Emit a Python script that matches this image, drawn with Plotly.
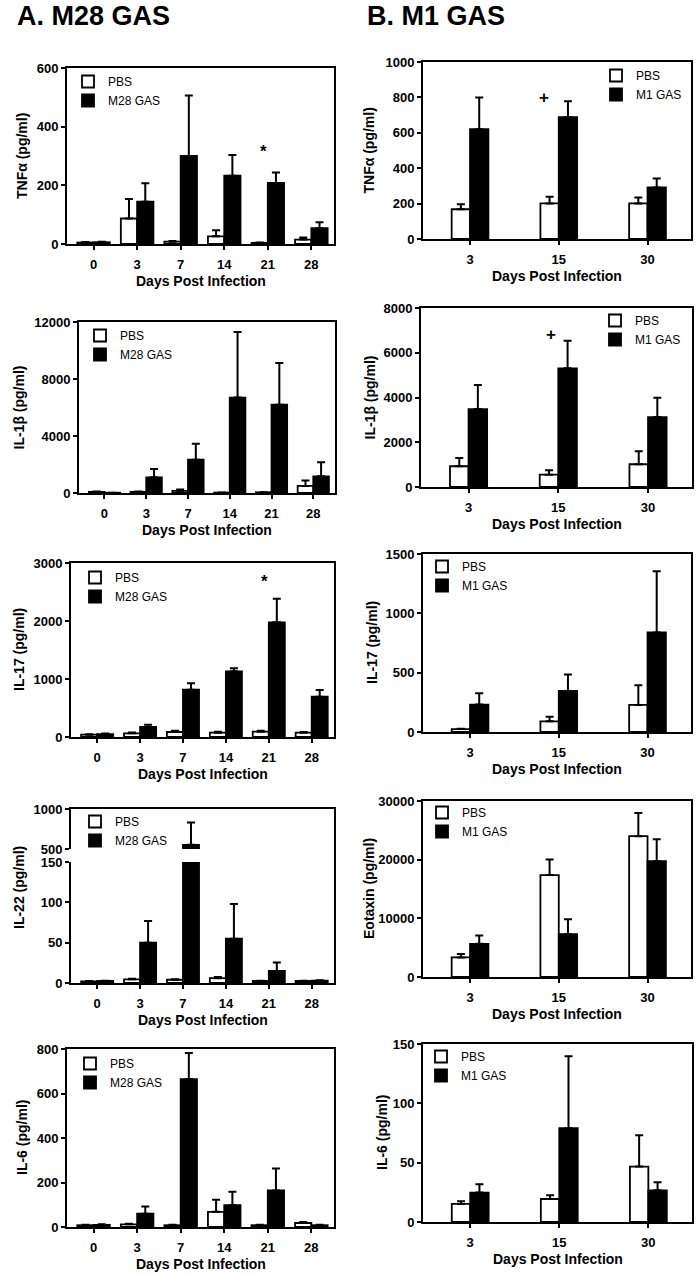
import plotly.graph_objects as go

W, H = 697, 1276
FONT = "Liberation Sans, Arial, Helvetica, sans-serif"

# ---------------- data ----------------
days_A = ["0", "3", "7", "14", "21", "28"]
days_B = ["3", "15", "30"]

tnf_A_pbs = [5, 87, 8, 26, 4, 15]
tnf_A_pbs_err = [2, 66, 2, 21, 1, 7]
tnf_A_gas = [6, 144, 300, 233, 208, 54]
tnf_A_gas_err = [2, 63, 206, 70, 36, 20]

il1b_A_pbs = [80, 80, 150, 30, 50, 500]
il1b_A_pbs_err = [20, 30, 90, 10, 10, 380]
il1b_A_gas = [20, 1100, 2340, 6700, 6200, 1170]
il1b_A_gas_err = [5, 580, 1120, 4590, 2920, 980]

il17_A_pbs = [40, 63, 86, 75, 92, 75]
il17_A_pbs_err = [8, 15, 20, 15, 17, 12]
il17_A_gas = [50, 172, 816, 1132, 1977, 695]
il17_A_gas_err = [10, 40, 110, 52, 408, 115]

il22_A_pbs = [2, 4.5, 4, 6, 2.5, 2.5]
il22_A_pbs_err = [0.5, 0.8, 0.8, 1.3, 0.3, 0.3]
il22_A_gas = [2.5, 50, 552, 55, 15, 3]
il22_A_gas_err = [0.3, 27, 279, 43, 10.5, 0.5]

il6_A_pbs = [8, 12, 8, 68, 8, 18]
il6_A_pbs_err = [2, 3, 2, 55, 2, 5]
il6_A_gas = [10, 60, 665, 98, 164, 8]
il6_A_gas_err = [2, 32, 117, 60, 99, 2]

tnf_B_pbs = [168, 201, 201]
tnf_B_pbs_err = [28, 38, 34]
tnf_B_gas = [620, 688, 291]
tnf_B_gas_err = [179, 90, 51]

il1b_B_pbs = [927, 553, 1016]
il1b_B_pbs_err = [373, 194, 584]
il1b_B_gas = [3483, 5306, 3124]
il1b_B_gas_err = [1077, 1226, 867]

il17_B_pbs = [25, 90, 228]
il17_B_pbs_err = [3, 39, 166]
il17_B_gas = [231, 346, 839]
il17_B_gas_err = [95, 138, 515]

eot_B_pbs = [3340, 17376, 24000]
eot_B_pbs_err = [565, 2658, 3960]
eot_B_gas = [5660, 7300, 19750]
eot_B_gas_err = [1415, 2550, 3740]

il6_B_pbs = [15.2, 19.4, 46.7]
il6_B_pbs_err = [2.2, 3.1, 26.5]
il6_B_gas = [24.8, 79, 26.7]
il6_B_gas_err = [7, 60.6, 6.8]

# significance marks: (panel, category, y value, symbol)
sig_marks = [(1, "21", 324, "*"), (2, "15", 816, "+"), (4, "15", 6930, "+"), (5, "21", 2741, "*")]


def xd(px):
    return px / W


def yd(py):
    return 1 - py / H


A_RANGE = [-0.61, 5.52]
B_RANGE = [-0.53, 2.49]
A_W = 0.374
B_W = 0.207

panels = [
    dict(i=1, cats=days_A, d=(tnf_A_pbs, tnf_A_pbs_err, tnf_A_gas, tnf_A_gas_err), gas="M28 GAS",
         box=(67, 68, 334, 244), yr=[0, 600], dt=200, yt="TNFα (pg/ml)", ytx=22, leg=(68, 67)),
    dict(i=2, cats=days_B, d=(tnf_B_pbs, tnf_B_pbs_err, tnf_B_gas, tnf_B_gas_err), gas="M1 GAS",
         box=(423, 62, 691, 239), yr=[0, 1000], dt=200, yt="TNFα (pg/ml)", ytx=368, leg=(596, 61)),
    dict(i=3, cats=days_A, d=(il1b_A_pbs, il1b_A_pbs_err, il1b_A_gas, il1b_A_gas_err), gas="M28 GAS",
         box=(79, 322, 335, 493), yr=[0, 12000], dt=4000, yt="IL-1β (pg/ml)", ytx=18, leg=(80, 321)),
    dict(i=4, cats=days_B, d=(il1b_B_pbs, il1b_B_pbs_err, il1b_B_gas, il1b_B_gas_err), gas="M1 GAS",
         box=(421, 308, 692, 487), yr=[0, 8000], dt=2000, yt="IL-1β (pg/ml)", ytx=370, leg=(595, 306)),
    dict(i=5, cats=days_A, d=(il17_A_pbs, il17_A_pbs_err, il17_A_gas, il17_A_gas_err), gas="M28 GAS",
         box=(71, 563, 334, 737), yr=[0, 3000], dt=1000, yt="IL-17 (pg/ml)", ytx=19, leg=(75, 563)),
    dict(i=6, cats=days_B, d=(il17_B_pbs, il17_B_pbs_err, il17_B_gas, il17_B_gas_err), gas="M1 GAS",
         box=(423, 554, 691, 732), yr=[0, 1500], dt=500, yt="IL-17 (pg/ml)", ytx=372, leg=(422, 552)),
    dict(i=7, cats=days_A, d=(il22_A_pbs, il22_A_pbs_err, il22_A_gas, il22_A_gas_err), gas="M28 GAS",
         box=(71, 862, 334, 983), yr=[0, 150], dt=50, yt="IL-22 (pg/ml)", ytx=19, leg=(75, 807),
         yt_y=888),
    dict(i=8, cats=days_B, d=(eot_B_pbs, eot_B_pbs_err, eot_B_gas, eot_B_gas_err), gas="M1 GAS",
         box=(423, 801, 691, 977), yr=[0, 30000], dt=10000, yt="Eotaxin (pg/ml)", ytx=369, leg=(422, 798)),
    dict(i=9, cats=days_A, d=(il6_A_pbs, il6_A_pbs_err, il6_A_gas, il6_A_gas_err), gas="M28 GAS",
         box=(67, 1049, 334, 1227), yr=[0, 800], dt=200, yt="IL-6 (pg/ml)", ytx=22, leg=(70, 1049)),
    dict(i=10, cats=days_B, d=(il6_B_pbs, il6_B_pbs_err, il6_B_gas, il6_B_gas_err), gas="M1 GAS",
         box=(423, 1044, 692, 1222), yr=[0, 150], dt=50, yt="IL-6 (pg/ml)", ytx=382, leg=(421, 1042)),
]

tickfont = dict(family=FONT, size=13, color="black", weight="bold")
titlefont = dict(family=FONT, size=14, color="black", weight="bold")


def sfx(i):
    return "" if i == 1 else str(i)


def axis_base():
    return dict(showline=True, linecolor="black", linewidth=2, mirror=True, ticks="outside",
                ticklen=4, tickwidth=2, tickcolor="black", showgrid=False, zeroline=False,
                tickfont=tickfont, fixedrange=True, tickformat="d", automargin=False)


def bar_traces(cats, vals, errs, name, xa, ya, legend, color, w, offset, showlegend=True):
    n = len(cats)
    return go.Bar(
        x=cats, y=vals, name=name, xaxis=xa, yaxis=ya, legend=legend,
        width=[w] * n, offset=[offset] * n, showlegend=showlegend,
        marker=dict(color=color, line=dict(color="black", width=1.8)),
        error_y=dict(type="data", symmetric=False, array=errs, arrayminus=[0] * n,
                     color="black", thickness=2, width=4),
        hoverinfo="skip",
    )


fig = go.Figure()
layout = dict(width=W, height=H, autosize=False, margin=dict(l=0, r=0, t=0, b=0, pad=0),
              paper_bgcolor="white", plot_bgcolor="white", barmode="overlay", showlegend=True,
              font=dict(family=FONT, color="black"))
annotations = []
shapes = []

for p in panels:
    s = sfx(p["i"])
    xa, ya = "x" + s, "y" + s
    lg = "legend" + s
    l, t, r, b = p["box"]
    isA = len(p["cats"]) == 6
    w = A_W if isA else B_W
    rng = A_RANGE if isA else B_RANGE
    pbs, pbs_e, gas, gas_e = p["d"]
    fig.add_trace(bar_traces(p["cats"], pbs, pbs_e, "PBS", xa, ya, lg, "white", w, -w))
    fig.add_trace(bar_traces(p["cats"], gas, gas_e, p["gas"], xa, ya, lg, "black", w, 0))

    xax = axis_base()
    xax.update(type="category", range=rng, domain=[xd(l), xd(r)], anchor=ya,
               ticklabelstandoff=3, categoryorder="array", categoryarray=p["cats"])
    yax = axis_base()
    yax.update(range=p["yr"], dtick=p["dt"], domain=[yd(b), yd(t)], anchor=xa)
    if p["i"] == 7:
        xax.update(mirror=False)
    layout["xaxis" + s] = xax
    layout["yaxis" + s] = yax

    lx, ly = p["leg"]
    layout[lg] = dict(x=xd(lx), y=yd(ly), xanchor="left", yanchor="top",
                      bgcolor="rgba(0,0,0,0)", font=dict(family=FONT, size=12, color="black"),
                      tracegroupgap=0, itemclick=False, itemdoubleclick=False,
                      traceorder="normal")

    # axis titles
    annotations.append(dict(text="Days Post Infection", xref="paper", yref="paper",
                            x=xd((l + r) / 2), y=yd(b + 37), showarrow=False,
                            xanchor="center", yanchor="middle", font=titlefont))
    yc = p.get("yt_y", (t + b) / 2)
    annotations.append(dict(text=p["yt"], xref="paper", yref="paper", x=xd(p["ytx"]), y=yd(yc),
                            showarrow=False, textangle=-90, xanchor="center", yanchor="middle",
                            font=titlefont))

# broken-axis top segment for IL-22
top_l, top_t, top_r, top_b = 71, 809, 334, 849
fig.add_trace(bar_traces(days_A, il22_A_pbs, il22_A_pbs_err, "PBS", "x11", "y11", "legend7",
                         "white", A_W, -A_W, showlegend=False))
fig.add_trace(bar_traces(days_A, il22_A_gas, il22_A_gas_err, "M28 GAS", "x11", "y11", "legend7",
                         "black", A_W, 0, showlegend=False))
x11 = axis_base()
x11.update(type="category", range=A_RANGE, domain=[xd(top_l), xd(top_r)], anchor="y11",
           side="top", mirror=False, ticks="", showticklabels=False,
           categoryorder="array", categoryarray=days_A)
y11 = axis_base()
y11.update(range=[500, 1000], tickvals=[500, 1000], domain=[yd(top_b), yd(top_t)], anchor="x11")
layout["xaxis11"] = x11
layout["yaxis11"] = y11
shapes.append(dict(type="line", xref="paper", yref="paper", x0=xd(top_r + 1), x1=xd(top_r + 1),
                   y0=yd(top_b - 1), y1=yd(863), line=dict(color="black", width=2)))

# significance marks
sig_dx = {1: -0.1, 2: -0.17, 4: -0.08, 5: -0.1}
for (pi, cat, val, sym) in sig_marks:
    s = sfx(pi)
    cats = days_A if pi % 2 == 1 else days_B
    annotations.append(dict(text=sym, x=cats.index(cat) + sig_dx[pi], y=val,
                            xref="x" + s, yref="y" + s, showarrow=False,
                            xanchor="center", yanchor="middle", yshift=-3,
                            font=dict(family=FONT, size=17, color="black", weight="bold")))

# panel titles
annotations.append(dict(text="A. M28 GAS", xref="paper", yref="paper", x=xd(15), y=yd(16),
                        xanchor="left", yanchor="middle", showarrow=False,
                        font=dict(family=FONT, size=27, color="black", weight="bold")))
annotations.append(dict(text="B. M1 GAS", xref="paper", yref="paper", x=xd(365), y=yd(16),
                        xanchor="left", yanchor="middle", showarrow=False,
                        font=dict(family=FONT, size=27, color="black", weight="bold")))

layout["annotations"] = annotations
layout["shapes"] = shapes
fig.update_layout(**layout)
fig.write_html(
    "out.html",
    config={"displayModeBar": False, "responsive": False},
    post_script=("document.documentElement.style.margin='0';document.body.style.margin='0';"
                 "document.body.style.overflow='hidden';"),
)
